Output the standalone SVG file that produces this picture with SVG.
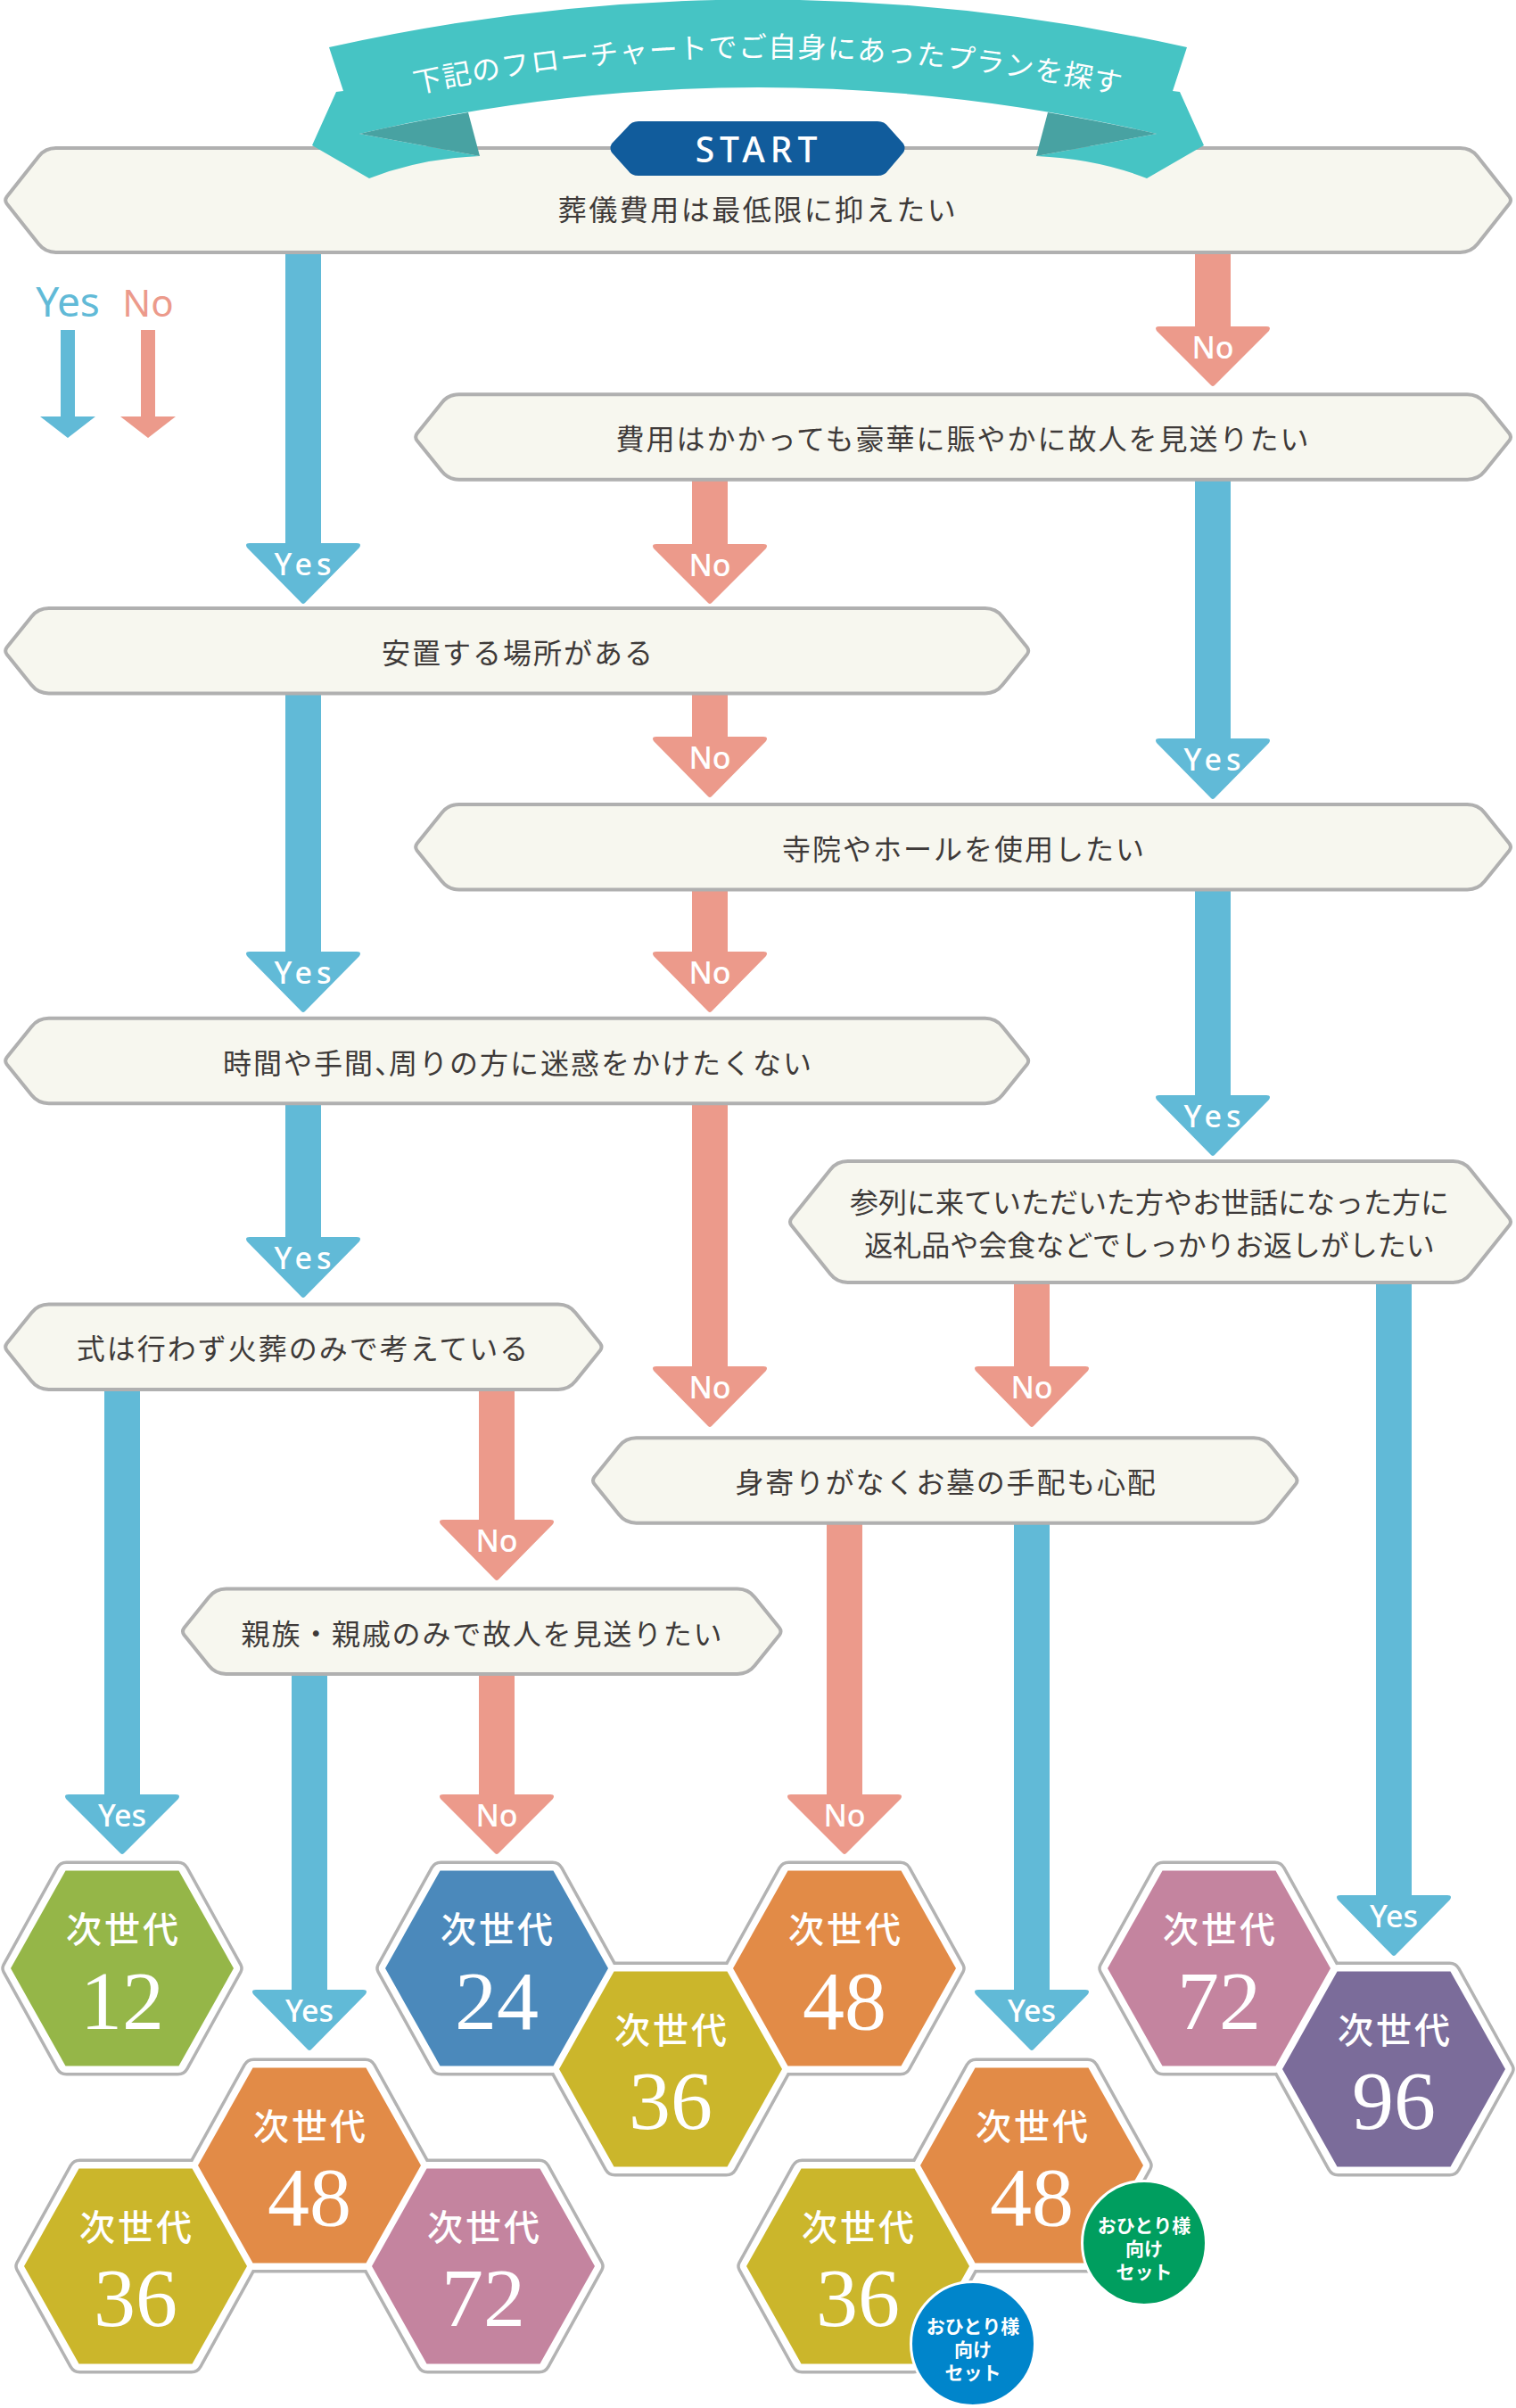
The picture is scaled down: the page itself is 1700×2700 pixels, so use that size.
<svg xmlns="http://www.w3.org/2000/svg" width="1700" height="2700" viewBox="0 0 1700 2700">
<defs>
<style>
.q{fill:#f7f7ef;stroke:#b0b0b0;stroke-width:4}
.t{font-family:"Noto Sans CJK JP",sans-serif;font-size:32px;fill:#3e3a39;text-anchor:middle;letter-spacing:2px}
.y{fill:#61bad7}.n{fill:#ec9a8b}
.al{font-family:"Noto Sans",sans-serif;font-size:34px;font-weight:500;fill:#fff;text-anchor:middle}
.ls{letter-spacing:5px}
.hf{fill:#fff;stroke:#b3b3b3;stroke-width:7}
.hw{fill:#fff}
.hl{font-family:"Noto Sans CJK JP",sans-serif;font-size:40px;font-weight:500;fill:#fff;text-anchor:middle;letter-spacing:3px}
.hn{font-family:"Liberation Serif",serif;font-size:94px;fill:#fff;text-anchor:middle}
.bt{font-family:"Noto Sans CJK JP",sans-serif;font-size:21px;font-weight:700;fill:#fff;text-anchor:middle}
</style>
<path id="ho" d="M-131.500-3L-71.400-111.800Q-68.500-117-62.500-117H62.500Q68.500-117 71.400-111.800L131.500-3Q133 0 131.500 3L71.400 111.800Q68.500 117 62.500 117H-62.500Q-68.500 117-71.400 111.800L-131.500 3Q-133 0-131.500-3Z"/>
<polygon id="hi" points="-125,0 -63.500,-109.500 63.500,-109.500 125,0 63.500,109.500 -63.500,109.500"/>
<path id="tp" d="M461 106Q850 22 1256 106"/>
</defs>
<g id="connectors">
<path class="y" d="M320 283V609H280q-6 0-3 5L338 676q2 2 4 0L403 614q3-5-3-5H360V283Z"/>
<path class="n" d="M1340 283V366H1300q-6 0-3 5L1358 432q2 2 4 0L1423 371q3-5-3-5H1380V283Z"/>
<path class="n" d="M776 538V610H736q-6 0-3 5L794 676q2 2 4 0L859 615q3-5-3-5H816V538Z"/>
<path class="y" d="M1340 538V828H1300q-6 0-3 5L1358 895q2 2 4 0L1423 833q3-5-3-5H1380V538Z"/>
<path class="n" d="M776 778V826H736q-6 0-3 5L794 893q2 2 4 0L859 831q3-5-3-5H816V778Z"/>
<path class="y" d="M320 778V1067H280q-6 0-3 5L338 1134q2 2 4 0L403 1072q3-5-3-5H360V778Z"/>
<path class="n" d="M776 998V1067H736q-6 0-3 5L794 1134q2 2 4 0L859 1072q3-5-3-5H816V998Z"/>
<path class="y" d="M1340 998V1228H1300q-6 0-3 5L1358 1295q2 2 4 0L1423 1233q3-5-3-5H1380V998Z"/>
<path class="y" d="M320 1238V1387H280q-6 0-3 5L338 1454q2 2 4 0L403 1392q3-5-3-5H360V1238Z"/>
<path class="n" d="M776 1238V1532H736q-6 0-3 5L794 1599q2 2 4 0L859 1537q3-5-3-5H816V1238Z"/>
<path class="n" d="M1137 1438V1532H1097q-6 0-3 5L1155 1599q2 2 4 0L1220 1537q3-5-3-5H1177V1438Z"/>
<path class="y" d="M117 1557V2012H77q-6 0-3 5L135 2078q2 2 4 0L200 2017q3-5-3-5H157V1557Z"/>
<path class="n" d="M537 1557V1704H497q-6 0-3 5L555 1771q2 2 4 0L620 1709q3-5-3-5H577V1557Z"/>
<path class="y" d="M327 1876V2231H287q-6 0-3 5L345 2298q2 2 4 0L410 2236q3-5-3-5H367V1876Z"/>
<path class="n" d="M537 1876V2012H497q-6 0-3 5L555 2078q2 2 4 0L620 2017q3-5-3-5H577V1876Z"/>
<path class="n" d="M927 1708V2012H887q-6 0-3 5L945 2078q2 2 4 0L1010 2017q3-5-3-5H967V1708Z"/>
<path class="y" d="M1137 1708V2231H1097q-6 0-3 5L1155 2298q2 2 4 0L1220 2236q3-5-3-5H1177V1708Z"/>
<path class="y" d="M1543 1438V2125H1503q-6 0-3 5L1561 2192q2 2 4 0L1626 2130q3-5-3-5H1583V1438Z"/>
<text class="al ls" x="342" y="645">Yes</text>
<text class="al" x="1360" y="402">No</text>
<text class="al" x="796" y="646">No</text>
<text class="al ls" x="1362" y="864">Yes</text>
<text class="al" x="796" y="862">No</text>
<text class="al ls" x="342" y="1103">Yes</text>
<text class="al" x="796" y="1103">No</text>
<text class="al ls" x="1362" y="1264">Yes</text>
<text class="al ls" x="342" y="1423">Yes</text>
<text class="al" x="796" y="1568">No</text>
<text class="al" x="1157" y="1568">No</text>
<text class="al" x="137" y="2048">Yes</text>
<text class="al" x="557" y="1740">No</text>
<text class="al" x="347" y="2267">Yes</text>
<text class="al" x="557" y="2048">No</text>
<text class="al" x="947" y="2048">No</text>
<text class="al" x="1157" y="2267">Yes</text>
<text class="al" x="1563" y="2161">Yes</text>
</g>
<g id="legend">
<text x="76" y="355" font-family="Noto Sans, sans-serif" font-size="46" fill="#61bad7" text-anchor="middle">Yes</text>
<text x="166" y="355" font-family="Noto Sans, sans-serif" font-size="42" fill="#ec9a8b" text-anchor="middle">No</text>
<polygon class="y" points="68,370 84,370 84,467 107,467 76,491 45,467 68,467"/>
<polygon class="n" points="158,370 174,370 174,467 197,467 166,491 135,467 158,467"/>
</g>
<g id="q1">
<path class="q" d="M7.700 220.500l35.600-45.100q7.400-9.400 19.400-9.400h1574.800q12 0 19.400 9.400l35.600 45.100q3 4 0 8l-35.600 45.100q-7.400 9.400-19.400 9.400H62.700q-12 0-19.400-9.400l-35.600-45.100q-3-4 0-8Z"/>
<text class="t" x="850" y="247" style="letter-spacing:2.500px">葬儀費用は最低限に抑えたい</text>
</g>
<g id="q2">
<path class="q" d="M467.700 486l27.600-34.350q7.400-9.400 19.400-9.400h1130.800q12 0 19.400 9.400l27.600 34.350q3 4 0 8l-27.600 34.350q-7.400 9.400-19.400 9.400H514.700q-12 0-19.400-9.400l-27.600-34.350q-3-4 0-8Z"/>
<text class="t" x="1080" y="504">費用はかかっても豪華に賑やかに故人を見送りたい</text>
</g>
<g id="q3">
<path class="q" d="M7.700 725.750l27.600-34.350q7.400-9.400 19.400-9.400h1050q12 0 19.400 9.400l27.600 34.350q3 4 0 8l-27.600 34.350q-7.400 9.400-19.400 9.400H54.700q-12 0-19.400-9.400l-27.600-34.350q-3-4 0-8Z"/>
<text class="t" x="581" y="744">安置する場所がある</text>
</g>
<g id="q4">
<path class="q" d="M467.700 945.750l27.600-34.350q7.400-9.400 19.400-9.400h1130.800q12 0 19.400 9.400l27.600 34.350q3 4 0 8l-27.600 34.350q-7.400 9.400-19.400 9.400H514.700q-12 0-19.400-9.400l-27.600-34.350q-3-4 0-8Z"/>
<text class="t" x="1081" y="964">寺院やホールを使用したい</text>
</g>
<g id="q5">
<path class="q" d="M7.700 1185.500l27.600-34.350q7.400-9.400 19.400-9.400h1050q12 0 19.400 9.400l27.600 34.350q3 4 0 8l-27.600 34.350q-7.400 9.400-19.400 9.400H54.700q-12 0-19.400-9.400l-27.600-34.350q-3-4 0-8Z"/>
<text class="t" x="581" y="1204">時間や手間、<tspan dx="-18">周りの方に迷惑をかけたくない</tspan></text>
</g>
<g id="q6">
<path class="q" d="M887.500 1366l43.600-54.600q7.400-9.400 19.400-9.400h679q12 0 19.400 9.400l43.600 54.600q3 4 0 8l-43.600 54.600q-7.400 9.400-19.400 9.400H950.500q-12 0-19.400-9.400l-43.600-54.600q-3-4 0-8Z"/>
<text class="t" x="1289" y="1360" style="letter-spacing:0">参列に来ていただいた方やお世話になった方に</text>
<text class="t" x="1289" y="1408" style="letter-spacing:0">返礼品や会食などでしっかりお返しがしたい</text>
</g>
<g id="q7">
<path class="q" d="M7.700 1506.250l27.600-34.350q7.400-9.400 19.400-9.400h571.300q12 0 19.400 9.400l27.600 34.350q3 4 0 8l-27.600 34.350q-7.400 9.400-19.400 9.400H54.700q-12 0-19.400-9.400l-27.600-34.350q-3-4 0-8Z"/>
<text class="t" x="340" y="1524">式は行わず火葬のみで考えている</text>
</g>
<g id="q8">
<path class="q" d="M666.500 1656l27.600-34.350q7.400-9.400 19.400-9.400h692.500q12 0 19.400 9.400l27.600 34.350q3 4 0 8l-27.600 34.350q-7.400 9.400-19.400 9.400H713.500q-12 0-19.400-9.400l-27.600-34.350q-3-4 0-8Z"/>
<text class="t" x="1061" y="1674" style="letter-spacing:1.800px">身寄りがなくお墓の手配も心配</text>
</g>
<g id="q9">
<path class="q" d="M206.500 1825.250l27.600-34.350q7.400-9.400 19.400-9.400h573.500q12 0 19.400 9.400l27.600 34.350q3 4 0 8l-27.600 34.350q-7.400 9.400-19.400 9.400H253.500q-12 0-19.400-9.400l-27.600-34.350q-3-4 0-8Z"/>
<text class="t" x="541" y="1844" style="letter-spacing:1.800px">親族・親戚のみで故人を見送りたい</text>
</g>
<g id="banner">
<path fill="#46c4c4" d="M369 53Q850-54 1331 53L1315 102L1323 103L1350 163L1286 200Q1230 178 1162 175L1297 150Q850 46 403 150L538 175Q470 178 414 200L350 163L377 103L385 102Z"/>
<path fill="#48a2a2" d="M403 150Q460 137 525 126L538 175Z"/>
<path fill="#48a2a2" d="M1297 150Q1240 137 1175 126L1162 175Z"/>
<text font-family="Noto Sans CJK JP, sans-serif" font-size="32" fill="#fff" letter-spacing="1.200"><textPath href="#tp" startOffset="5">下記のフローチャートでご自身にあったプランを探す</textPath></text>
</g>
<g id="start">
<path fill="#115c9c" d="M686 161L704 142Q708 136 716 136H984Q992 136 996 142L1013 161Q1016 166 1013 171L996 191Q992 197 984 197H716Q708 197 704 191L686 171Q683 166 686 161Z"/>
<text x="851" y="182" font-family="Noto Sans, sans-serif" font-size="39" font-weight="500" fill="#fff" text-anchor="middle" letter-spacing="6">START</text>
</g>
<g id="hex-frames">
<use class="hf" href="#ho" x="137" y="2207"/><use class="hf" href="#ho" x="557" y="2207"/><use class="hf" href="#ho" x="947" y="2207"/><use class="hf" href="#ho" x="752" y="2320"/><use class="hf" href="#ho" x="1367" y="2207"/><use class="hf" href="#ho" x="1563" y="2320"/><use class="hf" href="#ho" x="347" y="2428"/><use class="hf" href="#ho" x="152" y="2541"/><use class="hf" href="#ho" x="542" y="2541"/><use class="hf" href="#ho" x="1157" y="2428"/><use class="hf" href="#ho" x="962" y="2541"/>
<use class="hw" href="#ho" x="137" y="2207"/><use class="hw" href="#ho" x="557" y="2207"/><use class="hw" href="#ho" x="947" y="2207"/><use class="hw" href="#ho" x="752" y="2320"/><use class="hw" href="#ho" x="1367" y="2207"/><use class="hw" href="#ho" x="1563" y="2320"/><use class="hw" href="#ho" x="347" y="2428"/><use class="hw" href="#ho" x="152" y="2541"/><use class="hw" href="#ho" x="542" y="2541"/><use class="hw" href="#ho" x="1157" y="2428"/><use class="hw" href="#ho" x="962" y="2541"/>
</g>
<g id="plan-a12"><use href="#hi" x="137" y="2207" fill="#95b648"/><text class="hl" x="138.500" y="2178">次世代</text><text class="hn" x="137" y="2275">12</text></g>
<g id="plan-b24"><use href="#hi" x="557" y="2207" fill="#4b89bb"/><text class="hl" x="558.500" y="2178">次世代</text><text class="hn" x="557" y="2275">24</text></g>
<g id="plan-c48"><use href="#hi" x="947" y="2207" fill="#e28b47"/><text class="hl" x="948.500" y="2178">次世代</text><text class="hn" x="947" y="2275">48</text></g>
<g id="plan-c36"><use href="#hi" x="752" y="2320" fill="#cbb62b"/><text class="hl" x="753.500" y="2291">次世代</text><text class="hn" x="752" y="2387">36</text></g>
<g id="plan-d72"><use href="#hi" x="1367" y="2207" fill="#c4849f"/><text class="hl" x="1368.500" y="2178">次世代</text><text class="hn" x="1367" y="2275">72</text></g>
<g id="plan-d96"><use href="#hi" x="1563" y="2320" fill="#7b6c9a"/><text class="hl" x="1564.500" y="2291">次世代</text><text class="hn" x="1563" y="2387">96</text></g>
<g id="plan-e48"><use href="#hi" x="347" y="2428" fill="#e28b47"/><text class="hl" x="348.500" y="2399">次世代</text><text class="hn" x="347" y="2495">48</text></g>
<g id="plan-e36"><use href="#hi" x="152" y="2541" fill="#cbb62b"/><text class="hl" x="153.500" y="2512">次世代</text><text class="hn" x="152" y="2608">36</text></g>
<g id="plan-e72"><use href="#hi" x="542" y="2541" fill="#c4849f"/><text class="hl" x="543.500" y="2512">次世代</text><text class="hn" x="542" y="2608">72</text></g>
<g id="plan-f48"><use href="#hi" x="1157" y="2428" fill="#e28b47"/><text class="hl" x="1158.500" y="2399">次世代</text><text class="hn" x="1157" y="2495">48</text>
<circle cx="1283" cy="2515" r="69.500" fill="#009e5f" stroke="#fff" stroke-width="3"/><text class="bt" x="1283" y="2503">おひとり様</text><text class="bt" x="1283" y="2529">向け</text><text class="bt" x="1283" y="2555">セット</text></g>
<g id="plan-f36"><use href="#hi" x="962" y="2541" fill="#cbb62b"/><text class="hl" x="963.500" y="2512">次世代</text><text class="hn" x="962" y="2608">36</text>
<circle cx="1091" cy="2628" r="69.500" fill="#0085cb" stroke="#fff" stroke-width="3"/><text class="bt" x="1091" y="2616">おひとり様</text><text class="bt" x="1091" y="2642">向け</text><text class="bt" x="1091" y="2668">セット</text></g>
</svg>
